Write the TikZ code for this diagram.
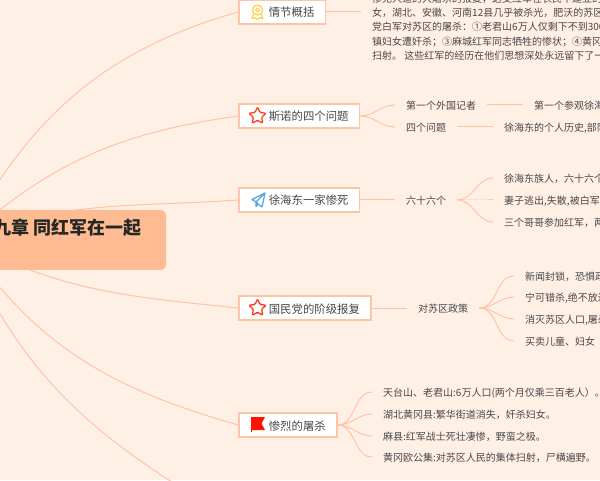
\documentclass[tikz,border=0pt]{standalone}
\usepackage{fontspec}
\setmainfont{Noto Sans CJK SC}
\usetikzlibrary{backgrounds,shapes.geometric}
\definecolor{pagebg}{HTML}{FFF0E6}
\definecolor{rootfill}{HTML}{FFBB92}
\definecolor{linkcol}{HTML}{FFC3A5}
\definecolor{textcol}{HTML}{484848}
\definecolor{badgecol}{HTML}{FFCF4D}

\begin{document}
\begin{tikzpicture}
        [
            x=1pt, y=1pt,
            root/.style={rectangle, rounded corners=5pt, fill=rootfill, minimum width=404pt, minimum height=60pt},
            roottext/.style={font=\fontsize{18}{22}\selectfont\bfseries, text=black!85, anchor=east, inner sep=0pt},
            topic/.style={rectangle, draw=linkcol, line width=1.6pt, fill=white, anchor=west, inner xsep=11pt, inner ysep=0pt, minimum height=24pt, text height=11.5pt, text depth=1.5pt, font=\fontsize{11.4}{14}\selectfont, text=textcol},
            leaf/.style={anchor=west, inner xsep=11pt, inner ysep=1pt, text height=11pt, text depth=1.4pt, font=\fontsize{10}{14}\selectfont, text=textcol},
            note/.style={anchor=west, inner xsep=11pt, inner ysep=1pt, align=left, font=\fontsize{10}{14.4}\selectfont, text=textcol},
            link/.style={draw=linkcol, line width=1pt},
            staricon/.style={star, star points=5, star point ratio=2.1, draw=#1, line width=1.3pt, rounded corners=1.2pt, minimum size=18pt, inner sep=0pt},
        ]
            \path[use as bounding box, clip] (0,0) rectangle (600,480);

            \node[root] (root) at (-36,240) {};
            \node[roottext] (title) at (142,252) {第九章 同红军在一起};

            % first level
            \node[topic] (plot) at (238,468) {\hspace*{19pt}情节概括};
            \node[topic] (snow) at (238,364) {\hspace*{19pt}斯诺的四个问题};
            \node[topic] (xu) at (238,280) {\hspace*{19pt}徐海东一家惨死};
            \node[topic] (gmd) at (238,172) {\hspace*{19pt}国民党的阶级报复};
            \node[topic] (kill) at (238,55) {\hspace*{19pt}惨烈的屠杀};
            \coordinate (lost) at (238,-42);

            % icons
            \draw[draw=badgecol, line width=1.2pt] (257.5,470) circle (5pt);
            \draw[draw=badgecol, line width=1pt] (257.5,470) circle (1.8pt);
            \draw[draw=badgecol, line width=1.2pt, line join=round] (253.5,466) -- (252,461.5) -- (255,462.5) -- (257.5,460.5) -- (260,462.5) -- (263,461.5) -- (261.5,466);
            \node[staricon=red!65!orange!90] (snowstar) at (257.5,364) {};
            \node[staricon=red!75!orange!90] (gmdstar) at (257.5,172) {};
            \draw[draw=cyan!70!blue!70, line width=1.2pt, line join=round] (265,287) -- (252,280.5) -- (256,278) -- (265,287) -- (262,273) -- (258,276) -- (256,278) -- (256,273.5) -- (258,276);
            \fill[red!85!orange] (251,63) -- (265,63) -- (261.5,56.5) -- (265,50) -- (251,50) -- cycle;
            \fill[red!85!orange] (251,63) rectangle (252,48);

            % second level
            \node[note] (plottext) at (361,453) {惨无人道的大屠杀的报复，这支红军在农民中建立的\\女，湖北、安徽、河南12县几乎被杀光，肥沃的苏区\\党白军对苏区的屠杀：①老君山6万人仅剩下不到300\\镇妇女遭奸杀；③麻城红军同志牺牲的惨状；④黄冈\\扫射。 这些红军的经历在他们思想深处永远留下了一};
            \node[leaf] (foreign) at (395,375) {第一个外国记者};
            \node[leaf] (visit) at (523,375) {第一个参观徐海};
            \node[leaf] (four) at (395,353) {四个问题};
            \node[leaf] (history) at (493,353) {徐海东的个人历史,部队};
            \node[leaf] (sixty) at (395,280) {六十六个};
            \node[leaf] (kin) at (493,302) {徐海东族人，六十六个};
            \node[leaf] (wife) at (493,280) {妻子逃出,失散,被白军};
            \node[leaf] (bros) at (493,258) {三个哥哥参加红军，两};
            \node[leaf] (policy) at (407,172) {对苏区政策};
            \node[leaf] (news) at (514,204) {新闻封锁，恐惧政};
            \node[leaf] (rather) at (514,183) {宁可错杀,绝不放过};
            \node[leaf] (wipe) at (514,161) {消灭苏区人口,屠杀};
            \node[leaf] (sell) at (514,139) {买卖儿童、妇女};
            \node[leaf] (tiantai) at (372,88) {天台山、老君山:6万人口(两个月仅乘三百老人）。};
            \node[leaf] (huanggang) at (372,66) {湖北黄冈县:繁华街道消失，奸杀妇女。};
            \node[leaf] (macheng) at (372,44) {麻县:红军战士死壮凄惨，野蛮之极。};
            \node[leaf] (ougong) at (372,23) {黄冈欧公集:对苏区人民的集体扫射，尸横遍野。};

            \begin{pgfonlayer}{background}
            \fill[pagebg] (0,0) rectangle (600,480);

            \draw[link] (root.center) to [out=62,in=196] (plot.west);
            \draw[link] (root.center) to [out=42,in=188] (snow.west);
            \draw[link] (root.center) to [out=22,in=184] (xu.west);
            \draw[link] (root.center) to [out=-28,in=174] (gmd.west);
            \draw[link] (root.center) to [out=-56,in=164] (kill.west);
            \draw[link] (root.center) to [out=-68,in=150] (lost);

            \draw[link] (plot.east) -- (plot.east -| plottext.west);
            \draw[link] (snow.east) to [out=0,in=180] (foreign.west);
            \draw[link] (snow.east) to [out=0,in=180] (four.west);
            \draw[link] (foreign.east) -- (visit.west);
            \draw[link] (four.east) -- (history.west);
            \draw[link] (xu.east) -- (sixty.west);
            \draw[link] (sixty.east) to [out=0,in=180] (kin.west);
            \draw[link] (sixty.east) to [out=0,in=180] (wife.west);
            \draw[link] (sixty.east) to [out=0,in=180] (bros.west);
            \draw[link] (gmd.east) -- (policy.west);
            \draw[link] (policy.east) to [out=0,in=180] (news.west);
            \draw[link] (policy.east) to [out=0,in=180] (rather.west);
            \draw[link] (policy.east) to [out=0,in=180] (wipe.west);
            \draw[link] (policy.east) to [out=0,in=180] (sell.west);
            \draw[link] (kill.east) to [out=0,in=180] (tiantai.west);
            \draw[link] (kill.east) to [out=0,in=180] (huanggang.west);
            \draw[link] (kill.east) to [out=0,in=180] (macheng.west);
            \draw[link] (kill.east) to [out=0,in=180] (ougong.west);
            \end{pgfonlayer}
        \end{tikzpicture}
\end{document}
